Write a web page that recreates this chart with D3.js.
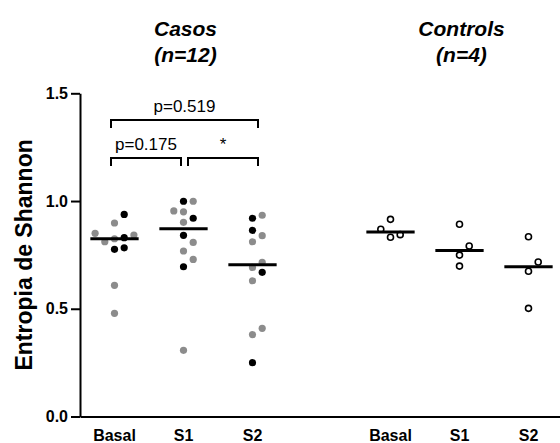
<!DOCTYPE html>
<html>
<head>
<meta charset="utf-8">
<script src="https://cdn.jsdelivr.net/npm/d3@7"></script>
<style>
  body { margin: 0; background: #fff; }
  svg { display: block; font-family: 'Liberation Sans', Arial, sans-serif; }
</style>
</head>
<body>
<div id="chart"></div>
<script>
const groups = ['Casos', 'Controls'];
const groupN = [12, 4];
const timepoints = ['Basal', 'S1', 'S2'];
const yTicks = [0, 0.5, 1.0, 1.5];

// Casos, one value per patient; sub 'a' = black dot, 'b' = grey dot
const casosBasal = [0.938, 0.898, 0.850, 0.842, 0.830, 0.825, 0.811, 0.783, 0.776, 0.609, 0.479];
const casosBasalSub = ['a', 'b', 'b', 'b', 'a', 'b', 'b', 'a', 'a', 'b', 'b'];
const casosS1 = [0.999, 0.999, 0.954, 0.950, 0.920, 0.901, 0.841, 0.808, 0.768, 0.729, 0.695, 0.307];
const casosS1Sub = ['a', 'b', 'b', 'b', 'a', 'b', 'a', 'b', 'b', 'b', 'a', 'b'];
const casosS2 = [0.934, 0.920, 0.864, 0.839, 0.811, 0.716, 0.692, 0.669, 0.630, 0.409, 0.380, 0.250];
const casosS2Sub = ['b', 'a', 'a', 'b', 'b', 'b', 'b', 'a', 'b', 'b', 'b', 'a'];

// Controls
const controlsBasal = [0.915, 0.869, 0.844, 0.832];
const controlsS1 = [0.892, 0.791, 0.749, 0.698];
const controlsS2 = [0.834, 0.717, 0.674, 0.502];

// comparisons within Casos
const compFrom = ['Basal', 'Basal', 'S1'];
const compTo = ['S2', 'S1', 'S2'];
const compLabel = ['p=0.519', 'p=0.175', '*'];
const compLevel = [1, 0, 0];

const columns = [
    { group: 'Casos', time: 'Basal', values: casosBasal, subs: casosBasalSub },
    { group: 'Casos', time: 'S1', values: casosS1, subs: casosS1Sub },
    { group: 'Casos', time: 'S2', values: casosS2, subs: casosS2Sub },
    { group: 'Controls', time: 'Basal', values: controlsBasal, subs: null },
    { group: 'Controls', time: 'S1', values: controlsS1, subs: null },
    { group: 'Controls', time: 'S2', values: controlsS2, subs: null }
];

const width = 560, height = 443;
const colKey = (g, t) => g + '|' + t;
const slots = [...timepoints.map(t => colKey(groups[0], t)), 'gap', ...timepoints.map(t => colKey(groups[1], t))];

const svg = d3.select('#chart').append('svg')
    .attr('width', width)
    .attr('height', height);

const xScale = d3.scaleBand()
    .domain(slots)
    .range([80, 563]);

const yScale = d3.scaleLinear()
    .domain([0, 1.5])
    .range([416.5, 93.3]);

const cx = key => xScale(key) + xScale.bandwidth() / 2;

// Axes
const yAxis = svg.append('g')
    .attr('transform', 'translate(80,0)')
    .call(d3.axisLeft(yScale).tickValues(yTicks).tickFormat(d3.format('.1f')).tickSize(9).tickSizeOuter(0).tickPadding(3));

const xAxis = svg.append('g')
    .attr('transform', `translate(0,${yScale(0)})`)
    .call(d3.axisBottom(xScale).tickSize(0).tickSizeOuter(0).tickPadding(13)
        .tickFormat(k => k === 'gap' ? '' : k.split('|')[1]));

[yAxis, xAxis].forEach(a => {
    a.select('.domain').attr('stroke', '#000').attr('stroke-width', 2);
    a.selectAll('.tick line').attr('stroke', '#000').attr('stroke-width', 2);
    a.selectAll('.tick text')
        .attr('fill', '#000')
        .style('font-size', '16px')
        .style('font-weight', 'bold')
        .style('font-family', "'Liberation Sans', Arial, sans-serif");
});

svg.append('text')
    .attr('transform', `translate(32,${(yScale(0) + yScale(1.5)) / 2}) rotate(-90)`)
    .attr('text-anchor', 'middle')
    .style('font-size', '23px')
    .style('font-weight', 'bold')
    .text('Entropia de Shannon');

// Group titles
groups.forEach((g, i) => {
    const t = svg.append('text')
        .attr('text-anchor', 'middle')
        .style('font-size', '21px')
        .style('font-weight', 'bold')
        .style('font-style', 'italic');
    t.append('tspan').attr('x', cx(colKey(g, 'S1')) + 2).attr('y', 36).text(g);
    t.append('tspan').attr('x', cx(colKey(g, 'S1')) + 2).attr('y', 62).text(`(n=${groupN[i]})`);
});

// Simple swarm: lowest value first, nearest free slot beside the column centre
const unit = 9.7, minDist = 9.6;
const offsets = [0, 1, -1, 2, -2, 3, -3];
function swarm(col) {
    const c = cx(colKey(col.group, col.time));
    const pts = col.values.map((v, i) => ({ v, sub: col.subs ? col.subs[i] : 'open', cy: yScale(v) }))
        .sort((a, b) => a.v - b.v);
    const placed = [];
    pts.forEach(p => {
        p.o = offsets.find(o => placed.every(q => Math.hypot((o - q.o) * unit, p.cy - q.cy) >= minDist));
        placed.push(p);
    });
    pts.forEach(p => { p.cx = c + p.o * unit; });
    return pts;
}

const dotColor = d3.scaleOrdinal().domain(['a', 'b', 'open']).range(['#000', '#8c8c8c', '#fff']);

columns.forEach(col => {
    const pts = swarm(col);
    svg.append('g').selectAll('circle')
        .data(pts)
        .enter().append('circle')
        .attr('cx', d => d.cx)
        .attr('cy', d => d.cy)
        .attr('r', d => d.sub === 'open' ? 3 : 3.6)
        .attr('fill', d => dotColor(d.sub))
        .attr('stroke', d => d.sub === 'open' ? '#000' : 'none')
        .attr('stroke-width', 1.6);

    const c = cx(colKey(col.group, col.time));
    const half = xScale.bandwidth() * 0.35;
    const m = d3.median(col.values);
    svg.append('line')
        .attr('x1', c - half)
        .attr('x2', c + half)
        .attr('y1', yScale(m))
        .attr('y2', yScale(m))
        .attr('stroke', '#000')
        .attr('stroke-width', 3);
});

// Significance brackets
const levelY = [158, 120];
const tip = 8;
compLabel.forEach((label, i) => {
    const shared = compLevel.some((l, j) => j !== i && l === compLevel[i] && (compFrom[j] === compTo[i] || compTo[j] === compFrom[i]));
    let x1 = cx(colKey('Casos', compFrom[i])) - 3.5;
    let x2 = cx(colKey('Casos', compTo[i])) + 5.5;
    if (shared && compTo[i] === 'S1') x2 = cx(colKey('Casos', 'S1')) - 2.5;
    if (shared && compFrom[i] === 'S1') x1 = cx(colKey('Casos', 'S1')) + 4.5;
    const y = levelY[compLevel[i]];
    svg.append('path')
        .attr('d', `M${x1},${y + tip}V${y}H${x2}V${y + tip}`)
        .attr('fill', 'none')
        .attr('stroke', '#000')
        .attr('stroke-width', 2);
    svg.append('text')
        .attr('x', (x1 + x2) / 2)
        .attr('y', y - 8)
        .attr('text-anchor', 'middle')
        .style('font-size', '17px')
        .text(label);
});
</script>
</body>
</html>
